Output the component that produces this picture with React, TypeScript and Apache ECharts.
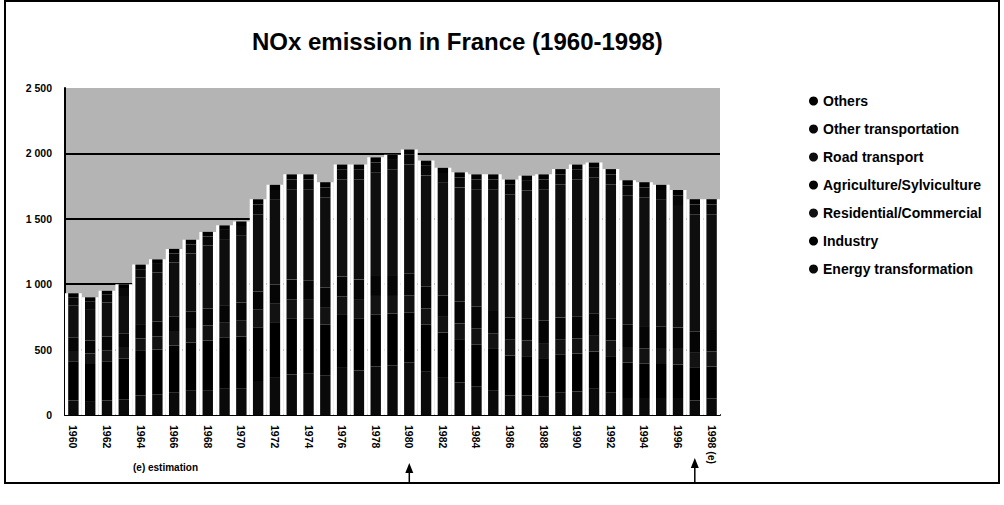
import React, { useEffect, useRef } from "react";
import * as echarts from "echarts";

const years = [
  "1960","1961","1962","1963","1964","1965","1966","1967","1968","1969",
  "1970","1971","1972","1973","1974","1975","1976","1977","1978","1979",
  "1980","1981","1982","1983","1984","1985","1986","1987","1988","1989",
  "1990","1991","1992","1993","1994","1995","1996","1997","1998",
];

const energyTransformation = [110,100,110,120,150,155,170,185,190,200,205,260,290,310,320,300,360,340,370,380,400,330,290,250,220,190,150,150,140,170,180,200,170,130,130,130,130,110,125];
const industry = [300,290,300,310,340,345,360,370,380,390,395,410,420,430,420,390,405,400,400,395,385,360,340,330,320,315,305,300,295,290,290,285,280,270,265,260,255,250,245];
const residential = [80,80,85,90,95,100,105,110,115,120,125,135,140,145,140,135,140,140,140,135,130,125,120,120,120,120,120,120,115,115,115,120,120,120,115,115,120,115,115];
const agriculture = [100,100,105,105,110,115,120,125,130,130,135,140,145,150,150,150,155,155,160,160,165,165,165,165,170,170,170,170,170,170,170,170,170,170,170,170,165,165,165];
const roadTransport = [250,240,260,285,355,375,410,445,480,505,515,590,650,690,695,690,740,765,785,805,835,850,860,875,895,930,940,975,1005,1020,1045,1040,1025,990,985,970,935,895,885];
const otherTransportation = [60,60,60,60,65,65,70,70,70,70,70,75,75,75,75,75,75,75,75,75,75,75,75,75,75,75,75,75,75,75,75,75,75,75,75,75,75,75,75];
const others = [30,30,30,30,35,35,35,35,35,35,35,40,40,40,40,40,40,40,40,40,40,40,40,40,40,40,40,40,40,40,40,40,40,40,40,40,40,40,40];

const yTicks = [0, 500, 1000, 1500, 2000, 2500];

const stackSeries = [
  { name: "Energy transformation", data: energyTransformation, color: "#0a0a0a" },
  { name: "Industry", data: industry, color: "#000000" },
  { name: "Residential/Commercial", data: residential, color: "#121212" },
  { name: "Agriculture/Sylviculture", data: agriculture, color: "#050505" },
  { name: "Road transport", data: roadTransport, color: "#0e0e0e" },
  { name: "Other transportation", data: otherTransportation, color: "#080808" },
  { name: "Others", data: others, color: "#000000" },
];

const legendOrder = [
  "Others",
  "Other transportation",
  "Road transport",
  "Agriculture/Sylviculture",
  "Residential/Commercial",
  "Industry",
  "Energy transformation",
];

const totals = years.map((_, i) => stackSeries.reduce((s, se) => s + se.data[i], 0));

const fmtY = (v: number) => {
  if (v >= 1000) {
    const th = Math.floor(v / 1000);
    const rest = String(v % 1000).padStart(3, "0");
    return `${th} ${rest}`;
  }
  return String(v);
};

export default function App() {
  const ref = useRef<HTMLDivElement>(null);
  useEffect(() => {
    if (!ref.current) return;
    const chart = echarts.init(ref.current, undefined, { renderer: "svg" });
    const font = "'Liberation Sans', Arial, sans-serif";
    chart.setOption({
      animation: false,
      backgroundColor: "#ffffff",
      textStyle: { fontFamily: font },
      title: {
        text: "NOx emission in France (1960-1998)",
        left: 247,
        top: 24,
        textStyle: { fontSize: 24, fontWeight: "bold", color: "#000", fontFamily: font },
      },
      legend: {
        data: legendOrder,
        orient: "vertical",
        left: 804,
        top: 89,
        itemWidth: 9,
        itemHeight: 9,
        itemGap: 14,
        icon: "circle",
        textStyle: { fontSize: 14, fontWeight: "bold", color: "#000", fontFamily: font },
      },
      grid: {
        left: 65,
        right: 284,
        top: 88,
        bottom: 90,
        show: true,
        backgroundColor: "#b4b4b4",
        borderWidth: 0,
      },
      xAxis: [
        {
          type: "category",
          data: years,
          axisLine: { show: true, lineStyle: { color: "#000", width: 2 } },
          axisTick: { show: false },
          axisLabel: {
            interval: 1,
            rotate: -90,
            fontSize: 10.5,
            fontWeight: "bold",
            color: "#000",
            margin: 10,
            formatter: (v: string) => (v === "1998" ? "1998 (e)" : v),
          },
        },
        {
          type: "category",
          data: years,
          show: false,
        },
      ],
      yAxis: {
        type: "value",
        min: yTicks[0],
        max: yTicks[yTicks.length - 1],
        interval: 500,
        axisLine: { show: true, lineStyle: { color: "#000", width: 2 } },
        axisTick: { show: false },
        splitLine: { show: true, showMaxLine: false, lineStyle: { color: "#000", width: 2 } },
        axisLabel: {
          formatter: fmtY,
          fontSize: 10.5,
          fontWeight: "bold",
          color: "#000",
          margin: 13,
        },
      },
      series: [
        {
          name: "bg",
          type: "bar",
          xAxisIndex: 1,
          data: totals,
          barCategoryGap: "0%",
          itemStyle: { color: "#ffffff" },
          silent: true,
          z: 1,
        },
        ...stackSeries.map((s) => ({
          name: s.name,
          type: "bar",
          stack: "total",
          xAxisIndex: 0,
          data: s.data,
          barWidth: "62%",
          itemStyle: { color: s.color },
          z: 3,
        })),
      ],
    });

    const x1980 = chart.convertToPixel({ xAxisIndex: 0 }, "1980") as number;
    const x1997 = chart.convertToPixel({ xAxisIndex: 0 }, "1997") as number;
    const arrow = (x: number, tip: number) => [
      {
        type: "polygon",
        shape: { points: [[x, tip], [x - 4, tip + 10], [x + 4, tip + 10]] },
        style: { fill: "#000" },
      },
      {
        type: "line",
        shape: { x1: x, y1: tip + 8, x2: x, y2: 482 },
        style: { stroke: "#000", lineWidth: 1.5 },
      },
    ];
    chart.setOption({
      graphic: [
        {
          type: "rect",
          shape: { x: 5, y: 1, width: 994, height: 482 },
          style: { fill: "none", stroke: "#000", lineWidth: 2 },
          silent: true,
        },
        {
          type: "text",
          left: 133,
          top: 462,
          style: { text: "(e) estimation", fontSize: 10, fontWeight: "bold", fill: "#000", fontFamily: font },
        },
        ...arrow(x1980, 463),
        ...arrow(x1997, 458),
      ],
    });

    return () => chart.dispose();
  }, []);
  return (
    <div
      ref={ref}
      style={{ position: "fixed", left: 0, top: 0, width: 1004, height: 505 }}
    />
  );
}
